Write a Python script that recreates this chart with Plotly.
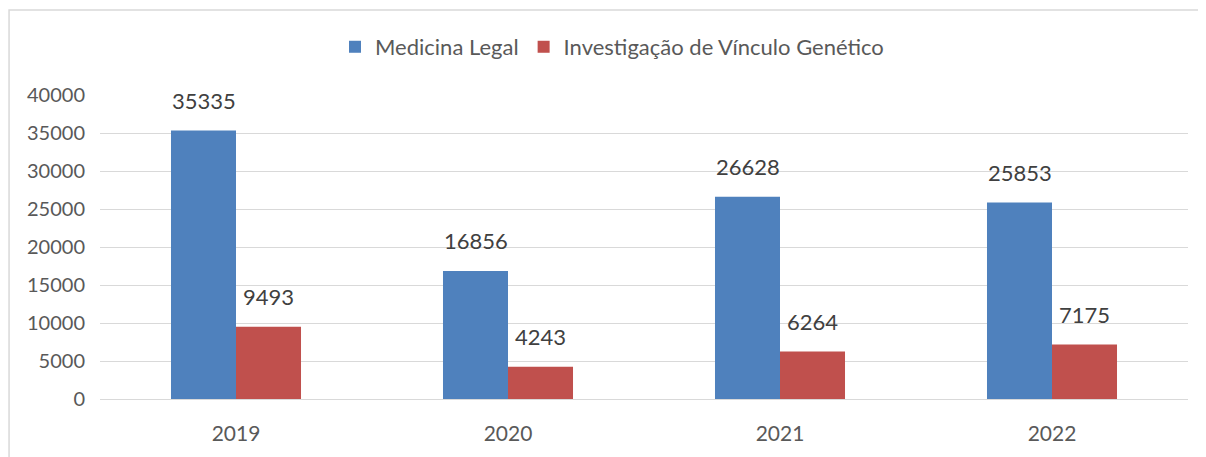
import plotly.graph_objects as go

years = ["2019", "2020", "2021", "2022"]
medicina_legal = [35335, 16856, 26628, 25853]
vinculo_genetico = [9493, 4243, 6264, 7175]
y_ticks = [0, 5000, 10000, 15000, 20000, 25000, 30000, 35000, 40000]

series = [
    ("Medicina Legal", medicina_legal, "#4F81BD"),
    ("Investigação de Vínculo Genético", vinculo_genetico, "#C0504D"),
]

FONT = "Lato"
fig = go.Figure()
for name, vals, color in series:
    fig.add_trace(go.Bar(x=years, y=vals, name=name, marker_color=color,
                         marker_line_width=0))

annotations = []
bar_px = 65
for i, (name, vals, color) in enumerate(series):
    shift = (-bar_px / 2) if i == 0 else (bar_px / 2)
    for idx, v in enumerate(vals):
        annotations.append(dict(x=idx, y=v, xref="x", yref="y", text=str(v),
                                showarrow=False, xshift=shift, yshift=30,
                                font=dict(family=FONT, size=22, color="#404040")))

fig.update_layout(
    width=1198, height=449,
    margin=dict(l=92, r=18, t=87, b=58),
    paper_bgcolor="white", plot_bgcolor="white",
    barmode="group", bargap=0.522, bargroupgap=0,
    font=dict(family=FONT, size=20, color="#595959"),
    legend=dict(orientation="h", x=0.4706, xanchor="center", y=1.158, yanchor="middle",
                font=dict(family=FONT, size=22, color="#595959"),
                traceorder="normal", itemwidth=30),
    xaxis=dict(type="category", range=[-0.5, len(years) - 0.5], showgrid=False,
               showline=False, ticks="", ticklabelstandoff=20, tickfont=dict(size=21)),
    yaxis=dict(range=[0, 40000], tickvals=y_ticks, ticktext=[str(t) for t in y_ticks],
               showgrid=True, gridcolor="#d9d9d9",
               gridwidth=1, zeroline=True, zerolinecolor="#d9d9d9", zerolinewidth=1,
               ticks="", ticklabelstandoff=14, tickfont=dict(size=20)),
    annotations=annotations,
    shapes=[dict(type="rect", xref="paper", yref="paper",
                 x0=-0.0836, x1=1.0138, y0=-0.4, y1=1.2796,
                 line=dict(color="#d9d9d9", width=1.5), fillcolor="rgba(0,0,0,0)", layer="below")],
)

fig.write_html("out.html")
